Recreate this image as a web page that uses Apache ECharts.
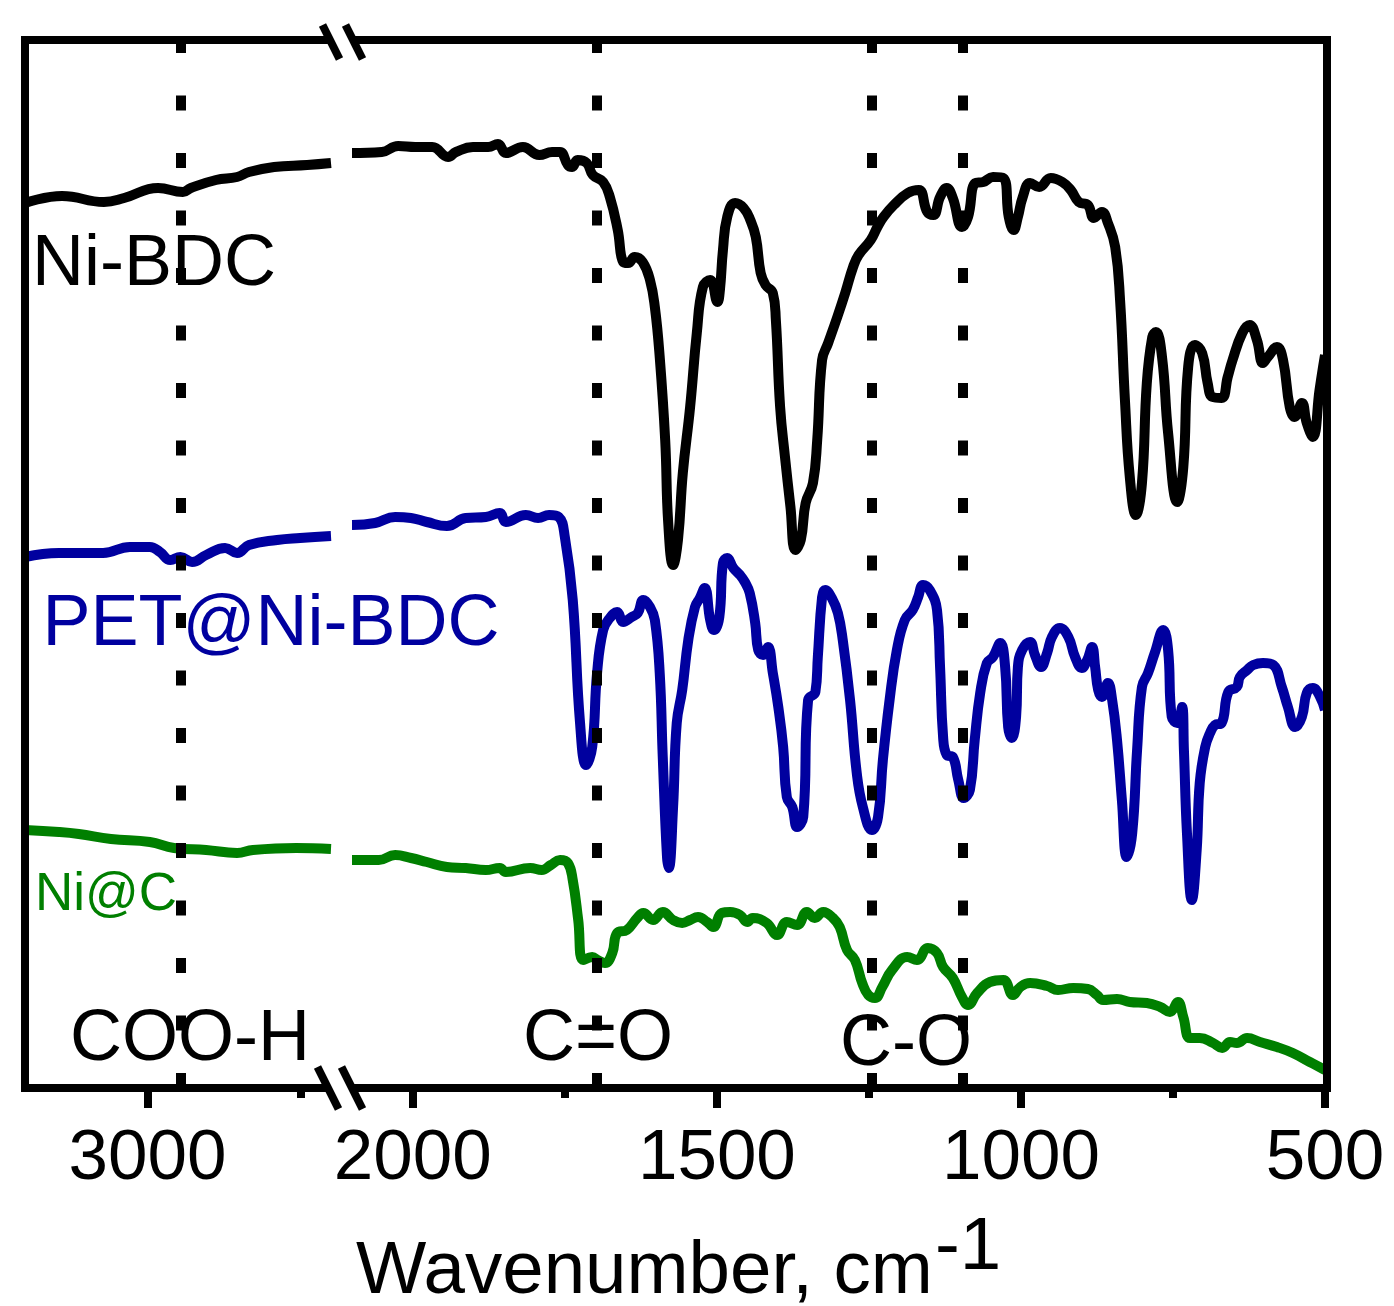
<!DOCTYPE html>
<html><head><meta charset="utf-8">
<script src="https://cdn.jsdelivr.net/npm/echarts@6/dist/echarts.min.js"></script>
<style>html,body{margin:0;padding:0;background:#fff}#c{width:1394px;height:1306px}</style>
</head><body><div id="c"></div>
<script>
// FTIR spectra, offset transmittance (a.u.) vs wavenumber (cm-1)
// High-wavenumber segment 3400-2400, low-wavenumber segment 2100-500
const niBdcHigh = [[3400,88.5],[3279,89.2],[3142,88.6],[3076,89.0],[2965,90.0],[2884,89.6],[2858,90.0],[2776,90.8],[2707,91.1],[2668,91.6],[2586,92.1],[2478,92.3],[2400,92.5]];
const niBdcLow = [[2100,93.5],[2051,93.6],[2024,94.2],[1996,94.1],[1968,94.1],[1942,93.1],[1929,93.6],[1901,94.1],[1876,94.1],[1860,94.4],[1847,93.5],[1819,94.1],[1792,93.3],[1771,93.6],[1758,93.6],[1745,92.3],[1738,92.1],[1729,92.8],[1714,92.5],[1704,91.3],[1687,90.6],[1676,89.1],[1663,85.8],[1654,82.6],[1646,82.5],[1635,83.1],[1622,82.6],[1610,80.8],[1602,78.1],[1594,73.1],[1585,64.8],[1580,56.5],[1572,52.3],[1564,54.8],[1556,61.5],[1544,68.1],[1533,75.5],[1523,80.1],[1511,80.8],[1499,78.6],[1495,79.8],[1490,83.8],[1483,87.1],[1470,88.5],[1456,88.0],[1445,86.8],[1436,85.1],[1428,81.5],[1420,80.3],[1408,79.5],[1403,76.8],[1396,68.1],[1388,63.1],[1379,58.1],[1371,53.8],[1362,54.8],[1354,58.5],[1342,60.5],[1335,64.8],[1327,72.8],[1317,74.5],[1302,77.1],[1289,79.5],[1276,82.1],[1267,83.3],[1247,84.8],[1236,86.1],[1226,87.1],[1209,88.3],[1186,89.5],[1168,89.8],[1154,87.6],[1144,87.3],[1133,89.1],[1122,90.0],[1112,89.0],[1097,86.1],[1087,87.1],[1075,90.5],[1062,90.6],[1046,91.1],[1029,91.0],[1020,87.1],[1012,85.8],[1005,87.1],[997,89.1],[985,90.5],[970,90.1],[951,91.0],[932,90.6],[918,89.8],[905,88.6],[890,88.3],[880,87.0],[867,87.6],[857,86.5],[845,84.1],[837,78.8],[829,68.8],[821,61.1],[811,57.3],[801,60.5],[793,70.5],[784,75.1],[778,75.6],[768,73.1],[758,65.5],[743,58.6],[733,62.1],[725,72.1],[714,74.3],[702,73.5],[693,70.5],[685,69.1],[670,69.0],[660,71.1],[652,72.8],[636,75.5],[624,76.3],[612,74.8],[602,72.5],[594,73.1],[579,74.1],[569,72.8],[558,68.1],[550,67.1],[538,68.5],[530,66.5],[520,65.1],[509,69.8],[504,71.8],[500,73.3]];

const petHigh = [[3400,53.1],[3289,53.5],[3145,53.5],[3057,54.1],[2992,54.1],[2959,53.6],[2925,52.8],[2892,53.1],[2854,52.6],[2808,53.3],[2746,54.0],[2707,53.5],[2668,54.3],[2576,54.8],[2501,55.0],[2400,55.2]];
const petLow = [[2100,56.3],[2062,56.5],[2029,57.1],[2003,57.0],[1977,56.6],[1944,56.2],[1913,57.0],[1880,57.1],[1857,57.5],[1847,56.6],[1814,57.3],[1794,57.0],[1776,57.3],[1760,57.1],[1750,55.1],[1737,48.8],[1725,36.5],[1715,32.3],[1705,34.1],[1697,41.5],[1687,45.8],[1676,47.0],[1664,47.6],[1654,46.6],[1640,47.1],[1630,47.5],[1621,48.8],[1610,48.1],[1602,46.8],[1594,41.5],[1589,33.1],[1582,23.1],[1579,22.0],[1572,28.1],[1566,36.5],[1557,39.8],[1547,44.8],[1536,48.1],[1528,49.0],[1520,50.0],[1511,46.8],[1505,45.8],[1496,47.1],[1490,52.5],[1483,53.0],[1473,52.0],[1462,51.3],[1454,50.6],[1446,49.5],[1437,46.5],[1432,43.8],[1424,43.3],[1416,44.1],[1408,41.5],[1399,38.1],[1391,34.1],[1385,29.1],[1376,28.1],[1368,26.1],[1358,27.1],[1350,38.8],[1338,39.6],[1334,43.1],[1327,49.1],[1322,49.8],[1311,49.0],[1301,47.5],[1293,44.8],[1281,38.8],[1270,31.5],[1260,28.1],[1245,25.8],[1235,27.1],[1227,32.8],[1216,38.8],[1204,43.8],[1191,46.8],[1178,47.8],[1169,49.1],[1161,50.3],[1150,49.8],[1138,47.8],[1133,42.1],[1128,35.1],[1122,33.3],[1112,33.1],[1103,30.8],[1094,29.0],[1084,29.8],[1076,34.8],[1067,39.5],[1056,42.5],[1046,43.1],[1034,44.5],[1026,42.1],[1021,36.1],[1015,35.0],[1008,37.1],[1005,42.1],[998,43.8],[985,44.6],[977,43.3],[967,42.1],[957,43.5],[949,45.1],[936,46.0],[922,45.1],[911,43.1],[900,42.0],[891,42.8],[883,44.1],[878,42.1],[873,39.8],[867,39.1],[857,40.5],[850,38.8],[842,34.8],[834,28.8],[826,23.1],[817,25.5],[809,33.8],[801,40.1],[791,41.5],[780,43.5],[766,45.8],[758,43.8],[752,37.1],[743,36.5],[735,38.1],[732,33.8],[727,25.5],[719,18.8],[711,23.8],[706,30.5],[697,34.1],[689,35.5],[681,36.3],[670,36.5],[659,39.6],[645,40.1],[640,41.1],[628,41.8],[618,42.3],[602,42.5],[585,42.3],[571,40.1],[561,38.1],[549,36.1],[538,37.1],[530,39.5],[520,40.0],[508,39.1],[500,37.8]];

const niCHigh = [[3400,25.8],[3289,25.6],[3224,25.4],[3119,24.9],[2992,24.6],[2913,24.0],[2808,23.8],[2707,23.5],[2655,23.8],[2514,24.0],[2400,23.9]];
const niCLow = [[2100,22.8],[2056,22.8],[2029,23.3],[2003,23.0],[1977,22.6],[1944,22.1],[1913,22.0],[1880,21.8],[1857,22.0],[1847,21.6],[1807,22.0],[1788,21.8],[1773,22.3],[1758,22.8],[1745,22.5],[1737,20.8],[1728,16.8],[1720,12.8],[1705,13.1],[1696,12.8],[1684,12.5],[1672,13.5],[1664,15.5],[1648,15.8],[1631,17.0],[1621,17.5],[1605,16.8],[1589,17.6],[1572,16.8],[1557,16.5],[1544,16.8],[1531,17.1],[1516,16.6],[1506,16.1],[1492,17.5],[1478,17.6],[1462,17.3],[1450,16.6],[1441,17.0],[1418,16.5],[1401,15.3],[1385,16.6],[1368,16.3],[1352,17.6],[1339,17.0],[1325,17.6],[1309,17.0],[1298,16.1],[1286,13.8],[1273,12.8],[1261,10.5],[1251,9.3],[1240,9.0],[1228,10.1],[1212,11.8],[1187,13.1],[1171,12.8],[1153,14.0],[1138,13.5],[1128,12.1],[1112,11.0],[1097,9.1],[1087,8.3],[1072,9.5],[1051,10.6],[1029,10.8],[1013,9.3],[1001,10.1],[985,10.5],[957,10.2],[939,9.8],[914,10.0],[890,9.9],[875,9.3],[865,8.8],[842,8.9],[821,8.6],[793,8.5],[771,8.1],[755,7.6],[742,8.6],[733,7.1],[722,5.0],[706,5.0],[684,4.5],[669,4.0],[656,4.6],[645,4.5],[628,5.0],[607,4.6],[579,4.1],[553,3.5],[525,2.6],[500,1.8]];

// band assignments (dotted guide lines)
const peaksHigh = [2890];
const peaksLow = [1697, 1245, 1095];
// axis ticks
const majorHigh = [3000];
const minorHigh = [2500];
const majorLow = [2000, 1500, 1000, 500];
const minorLow = [1750, 1250, 750];

const FONT = '"Liberation Sans", Arial, Helvetica, sans-serif';
const BLACK = '#000000', BLUE = '#00009f', GREEN = '#007f00';

function spectrum(data, color, xi, yi) {
  return {
    type: 'line', data: data, xAxisIndex: xi, yAxisIndex: yi,
    showSymbol: false, symbol: 'none', smooth: 0.45, z: 3,
    lineStyle: { color: color, width: 10, join: 'round', cap: 'butt' },
    silent: true
  };
}
function guides(vals, xi, yi) {
  return {
    type: 'line', data: [], xAxisIndex: xi, yAxisIndex: yi, z: 1, silent: true,
    markLine: {
      silent: true, symbol: ['none', 'none'], label: { show: false }, animation: false,
      lineStyle: { color: BLACK, width: 10, type: [15, 42.5], cap: 'butt' },
      emphasis: { disabled: true },
      data: vals.map(v => ({ xAxis: v }))
    }
  };
}
function xAx(grid, min, max, ticks, len, labels) {
  return {
    type: 'value', gridIndex: grid, min: min, max: max, inverse: true, position: 'bottom',
    axisLine: { show: false }, splitLine: { show: false },
    axisTick: { show: true, inside: false, length: len, customValues: ticks, lineStyle: { color: BLACK, width: 8 } },
    axisLabel: labels ? { show: true, customValues: ticks, formatter: v => String(v), fontSize: 71, fontFamily: FONT, color: BLACK, margin: 36 } : { show: false }
  };
}

const chart = echarts.init(document.getElementById('c'), null, { renderer: 'canvas' });
const txt = (s, x, y, size, color, align) => ({
  type: 'text', x: x, y: y, z: 50, silent: true,
  style: { text: s, fontSize: size, fontFamily: FONT, fill: color, align: align || 'center', verticalAlign: 'middle' }
});
chart.setOption({
  animation: false,
  backgroundColor: '#ffffff',
  grid: [
    { left: 25, top: 40, width: 306, height: 1048 },
    { left: 352, top: 40, width: 973, height: 1048 }
  ],
  xAxis: [
    xAx(0, 2400, 3400, majorHigh, 20, true),
    xAx(0, 2400, 3400, minorHigh, 10, false),
    xAx(1, 500, 2100, majorLow, 20, true),
    xAx(1, 500, 2100, minorLow, 10, false)
  ],
  yAxis: [
    { type: 'value', gridIndex: 0, min: 0, max: 104.8, show: false },
    { type: 'value', gridIndex: 1, min: 0, max: 104.8, show: false }
  ],
  series: [
    guides(peaksHigh, 0, 0),
    guides(peaksLow, 2, 1),
    spectrum(niBdcHigh, BLACK, 0, 0),
    spectrum(niBdcLow, BLACK, 2, 1),
    spectrum(petHigh, BLUE, 0, 0),
    spectrum(petLow, BLUE, 2, 1),
    spectrum(niCHigh, GREEN, 0, 0),
    spectrum(niCLow, GREEN, 2, 1)
  ],
  graphic: [
    { type: 'rect', z: 40, silent: true, shape: { x: 25, y: 40, width: 1302, height: 1048 }, style: { fill: 'transparent', stroke: BLACK, lineWidth: 8 } },
    // axis break marks
    { type: 'polygon', z: 41, silent: true, shape: { points: [[327,33],[350,33],[356,47],[333,47]] }, style: { fill: '#fff' } },
    { type: 'polygon', z: 41, silent: true, shape: { points: [[325,1081],[349,1081],[355,1095],[331,1095]] }, style: { fill: '#fff' } },
    { type: 'line', z: 42, silent: true, shape: { x1: 322.5, y1: 25, x2: 339.5, y2: 59 }, style: { stroke: BLACK, lineWidth: 8 } },
    { type: 'line', z: 42, silent: true, shape: { x1: 345.5, y1: 25, x2: 362.5, y2: 59 }, style: { stroke: BLACK, lineWidth: 8 } },
    { type: 'line', z: 42, silent: true, shape: { x1: 317.5, y1: 1067, x2: 338.5, y2: 1109 }, style: { stroke: BLACK, lineWidth: 8 } },
    { type: 'line', z: 42, silent: true, shape: { x1: 341.5, y1: 1067, x2: 362.5, y2: 1109 }, style: { stroke: BLACK, lineWidth: 8 } },
    // sample labels
    txt('Ni-BDC', 154, 265, 72, BLACK),
    txt('PET@Ni-BDC', 271, 625, 72, BLUE),
    txt('Ni@C', 106, 895, 53, GREEN),
    // band labels
    txt('COO-H', 190, 1040, 72, BLACK),
    txt('C=O', 598, 1040, 72, BLACK),
    txt('C-O', 906, 1045, 72, BLACK),
    // axis title
    txt('Wavenumber, cm', 356, 1272, 74.5, BLACK, 'left'),
    txt('-1', 935, 1248, 74.5, BLACK, 'left')
  ]
});
</script>
</body></html>
